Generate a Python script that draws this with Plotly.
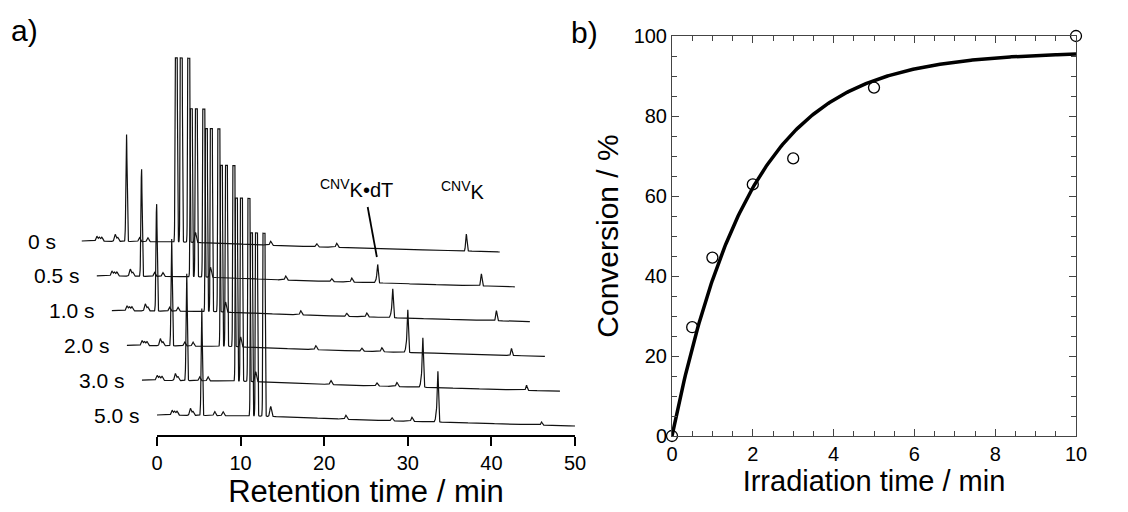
import numpy as np
import plotly.graph_objects as go

# ---------------- data ----------------
# Panel a) chromatograms (retention time in min, signal in arbitrary units)
trace_labels = ["0 s", "0.5 s", "1.0 s", "2.0 s", "3.0 s", "5.0 s"]
common_peak_times = [1.8, 2.1, 2.4, 4.0, 4.3, 5.35, 6.9, 7.9, 11.3, 11.9, 12.8, 13.6, 22.6, 28.1, 30.5]
common_peak_heights = [5, 4, 4, 7, 4, 108, 4, 4, 1000, 1000, 1000, 10, 4, 3, 4]
cluster_top = [184, 168, 183, 181, 183, 183]          # detector saturation level per run
adduct_time = 33.6                                      # CNVK•dT
adduct_heights = [0, 16, 25, 37, 43, 44]
cnvk_time = 46.0                                        # CNVK
cnvk_heights = [17, 12, 10, 7, 5, 3]
drift_times = [0, 12, 25, 50]
drift_values = [0, -1, -5, -11]
retention_ticks = [0, 10, 20, 30, 40, 50]

# Panel b) conversion vs irradiation time
irr_time = [0, 0.5, 1, 2, 3, 5, 10]
conversion = [0, 27.2, 44.6, 62.9, 69.4, 87.1, 100]
fit_amplitude = 96.0
fit_rate = 0.52

# ---------------- layout helpers ----------------
PAGE_MARGIN = 8          # default body margin of the html page
W, H = 1128 - PAGE_MARGIN, 512 - PAGE_MARGIN
def fx(p):
    return (p - PAGE_MARGIN) / W
def fy(p):
    return 1 - (p - PAGE_MARGIN) / H

FONT = "Liberation Sans, Arial, sans-serif"
X_STEP = 1.8      # horizontal stagger (min)
Y_STEP = 34.8     # vertical stagger (a.u.)
Y_BASE = 20.0
PPM = (575 - 157) / 50.0
XMIN = -14

fig = go.Figure()

t = np.arange(0, 50.0001, 0.02)
n = len(trace_labels)
for i, lab in enumerate(trace_labels):
    x_off = -X_STEP * (n - 1 - i)
    y_off = Y_BASE + Y_STEP * (n - 1 - i)
    sig = np.zeros_like(t)
    for pt, ph in zip(common_peak_times, common_peak_heights):
        s = 0.07 if ph >= 20 else 0.1
        sig += ph * np.exp(-0.5 * ((t - pt) / s) ** 2)
    ah = adduct_heights[i]
    sig += ah * np.exp(-0.5 * ((t - adduct_time) / 0.07) ** 2)
    sig += 0.25 * ah * np.exp(-0.5 * ((t - (adduct_time - 0.12)) / 0.12) ** 2)
    ch = cnvk_heights[i]
    sig += ch * np.exp(-0.5 * ((t - cnvk_time) / 0.08) ** 2)
    sig = np.minimum(sig, cluster_top[i])
    y = y_off + np.interp(t, drift_times, drift_values) + sig
    fig.add_trace(go.Scatter(x=t + x_off, y=y, mode="lines",
                             line=dict(color="#111111", width=1.2),
                             showlegend=False, hoverinfo="skip",
                             xaxis="x", yaxis="y"))
    gap = 2.9 if i == 0 else 1.8
    fig.add_annotation(x=x_off - gap, y=y_off, xref="x", yref="y",
                       text=lab, showarrow=False, xanchor="right", yanchor="middle",
                       font=dict(size=21, color="black", family=FONT))

# dummy trace to materialise visible retention-time axis
fig.add_trace(go.Scatter(x=[0, 50], y=[None, None], xaxis="x2", yaxis="y",
                         showlegend=False, hoverinfo="skip", mode="lines"))

# peak labels
fig.add_annotation(x=23.9, y=247, xref="x", yref="y", text="<sup>CNV</sup>K•dT",
                   showarrow=False, xanchor="center", yanchor="middle",
                   font=dict(size=20, color="black", family=FONT))
fig.add_annotation(x=36.6, y=245, xref="x", yref="y", text="<sup>CNV</sup>K",
                   showarrow=False, xanchor="center", yanchor="middle",
                   font=dict(size=20, color="black", family=FONT))
fig.add_shape(type="line", xref="x", yref="y", x0=25.2, y0=228, x1=26.3, y1=178,
              line=dict(color="black", width=1.8))

# panel b traces
tf = np.linspace(0, 10, 301)
fig.add_trace(go.Scatter(x=tf, y=fit_amplitude * (1 - np.exp(-fit_rate * tf)),
                         mode="lines", line=dict(color="black", width=3.5),
                         xaxis="x3", yaxis="y3", showlegend=False, hoverinfo="skip"))
fig.add_trace(go.Scatter(x=irr_time, y=conversion, mode="markers",
                         marker=dict(symbol="circle-open", size=11, color="black",
                                     line=dict(width=1.3)),
                         xaxis="x3", yaxis="y3", showlegend=False, cliponaxis=False))

# panel letters
fig.add_annotation(x=fx(24), y=fy(31), xref="paper", yref="paper", text="a)",
                   showarrow=False, xanchor="center", yanchor="middle",
                   font=dict(size=30, color="black", family=FONT))
fig.add_annotation(x=fx(584), y=fy(32), xref="paper", yref="paper", text="b)",
                   showarrow=False, xanchor="center", yanchor="middle",
                   font=dict(size=30, color="black", family=FONT))

frame = "#444444"
fig.update_layout(
    template="none",
    width=W, height=H, margin=dict(l=0, r=0, t=0, b=0, autoexpand=False),
    paper_bgcolor="white", plot_bgcolor="rgba(0,0,0,0)",
    font=dict(family=FONT, color="black"),
    showlegend=False,
    xaxis=dict(domain=[fx(157 + XMIN * PPM), fx(575 + 1 * PPM)], range=[XMIN, 51],
               visible=False, showgrid=False, zeroline=False, automargin=False),
    yaxis=dict(domain=[fy(435), fy(40)], range=[0, 395], visible=False,
               showgrid=False, zeroline=False, automargin=False),
    xaxis2=dict(domain=[fx(157), fx(575)], range=[0, 50], anchor="y",
                tickvals=retention_ticks, ticks="outside", ticklen=9, tickwidth=1.5,
                tickcolor="black", showline=True, linewidth=1.5, linecolor="black",
                showgrid=False, zeroline=False, tickfont=dict(size=20), automargin=False,
                title=dict(text="Retention time / min", font=dict(size=31), standoff=7)),
    xaxis3=dict(domain=[fx(672), fx(1076)], range=[0, 10], anchor="y3",
                dtick=2, ticks="inside", ticklen=7, tickcolor=frame, tickwidth=1,
                minor=dict(dtick=0.5, ticks="inside", ticklen=5, tickcolor=frame, showgrid=False),
                showline=True, linecolor=frame, linewidth=1, mirror="allticks",
                showgrid=False, zeroline=False, tickfont=dict(size=20), automargin=False,
                title=dict(text="Irradiation time / min", font=dict(size=29), standoff=4)),
    yaxis3=dict(domain=[fy(436), fy(36)], range=[0, 100], anchor="x3",
                dtick=20, ticks="inside", ticklen=7, tickcolor=frame, tickwidth=1,
                minor=dict(dtick=5, ticks="inside", ticklen=5, tickcolor=frame, showgrid=False),
                showline=True, linecolor=frame, linewidth=1, mirror="allticks",
                showgrid=False, zeroline=False, tickfont=dict(size=20), automargin=False,
                title=dict(text="Conversion / %", font=dict(size=30), standoff=6)),
)

fig.write_html("out.html")
